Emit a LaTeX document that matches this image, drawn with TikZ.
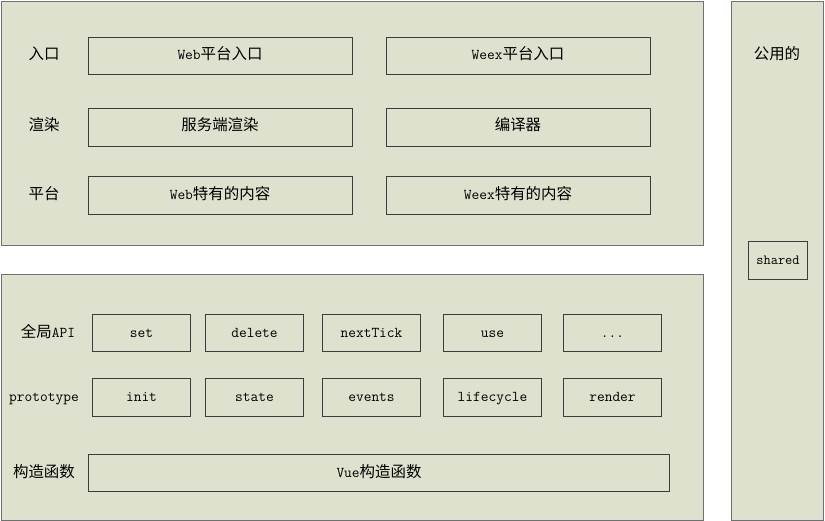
\documentclass[tikz,border=0pt]{standalone}
\usepackage{fontspec}
\newfontfamily\cjk{Noto Sans CJK SC}[Scale=1.03]
\definecolor{panel}{HTML}{DEE1CD}
\definecolor{edge}{HTML}{3C3C3C}
\definecolor{outer}{HTML}{707070}
\begin{document}
\begin{tikzpicture}[x=1pt,y=-1pt,
  font=\fontsize{15}{17}\selectfont,
  panelbox/.style={draw=outer,fill=panel,line width=1pt},
  itembox/.style={draw=edge,fill=panel,line width=0.9pt},
  txt/.style={inner sep=0pt,anchor=base},
  lbl/.style={txt,font=\fontsize{15}{17}\selectfont\cjk},
  ttl/.style={txt,font=\fontsize{15}{17}\selectfont\ttfamily}]
\useasboundingbox (0,0) rectangle (825,521);
% panels
\draw[panelbox] (1.5,1.5) rectangle (703,246);
\draw[panelbox] (1.5,274.5) rectangle (703,520);
\draw[panelbox] (731.5,1.5) rectangle (823,520);
% top rows: boxes
\draw[itembox] (88.5,37.5) rectangle (352.5,74);
\draw[itembox] (386.5,37.5) rectangle (650.5,74);
\draw[itembox] (88.5,108.5) rectangle (352.5,146);
\draw[itembox] (386.5,108.5) rectangle (650.5,146);
\draw[itembox] (88.5,176.5) rectangle (352.5,214);
\draw[itembox] (386.5,176.5) rectangle (650.5,214);
% top rows: texts
\node[lbl] (l1) at (44,60) {入口};
\node[lbl] (l2) at (44,131) {渲染};
\node[lbl] (l3) at (44,200) {平台};
\node[txt] (a1) at (220,60) {\ttfamily Web\cjk 平台入口};
\node[txt] (b1) at (518,60) {\ttfamily Weex\cjk 平台入口};
\node[txt] (a2) at (220,131) {\cjk 服务端渲染};
\node[txt] (b2) at (518,131) {\cjk 编译器};
\node[txt] (a3) at (220,200) {\ttfamily Web\cjk 特有的内容};
\node[txt] (b3) at (518,200) {\ttfamily Weex\cjk 特有的内容};
% shared column
\node[lbl] (sh) at (777,60) {公用的};
\draw[itembox] (748.5,241.5) rectangle (807.5,279);
\node[ttl,font=\fontsize{14}{16}\selectfont\ttfamily] (s1) at (778,265) {shared};
% bottom rows
\node[txt] (g) at (48,338) {\cjk 全局\ttfamily API};
\node[ttl] (p) at (44,402) {prototype};
\node[lbl] (c) at (44,477) {构造函数};
\foreach \x/\t [count=\i] in {92/set,205/delete,322/nextTick,443/use}{
  \draw[itembox] (\x+0.5,314.5) rectangle (\x+98.5,351);
  \node[ttl] (r1\i) at (\x+49.5,338) {\t};
}
\draw[itembox] (563.5,314.5) rectangle (661.5,351);
\node[ttl] (r15) at (612.5,338) {...};
\foreach \x/\t [count=\i] in {92/init,205/state,322/events,443/lifecycle,563/render}{
  \draw[itembox] (\x+0.5,378.5) rectangle (\x+98.5,416);
  \node[ttl] (r2\i) at (\x+49.5,402) {\t};
}
\draw[itembox] (88.5,454.5) rectangle (669.5,491);
\node[txt] (v) at (379,477) {\ttfamily Vue\cjk 构造函数};
\end{tikzpicture}
\end{document}
